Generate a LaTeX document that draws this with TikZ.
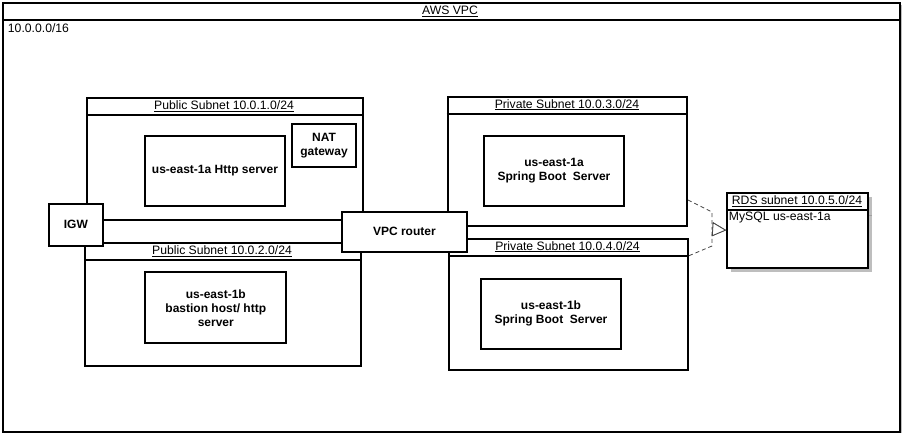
\documentclass[tikz,border=0pt]{standalone}
\usepackage{fontspec}
\setmainfont{Liberation Sans}
\usepackage{tikz}
\usetikzlibrary{arrows.meta}

\tikzset{
  lane/.style={draw, line width=2pt, fill=white, anchor=north west, inner sep=0pt},
  srv/.style={draw, line width=2pt, fill=white, anchor=north west, inner sep=0pt, align=center, font=\fontsize{12}{14}\selectfont\bfseries},
  hdr/.style={inner sep=0.75pt, font=\fontsize{12.2}{14}\selectfont},
  dep/.style={draw={rgb, 255:red, 68; green, 68; blue, 68}, line width=0.8pt, dash pattern={on 4pt off 3pt}, -{Triangle[length=14pt, width=14pt, fill=white]}}
}

\begin{document}
\begin{tikzpicture}[x=1pt,y=1pt,yscale=-1]
\useasboundingbox (0,0) rectangle (902,433);

%Shape: Rectangle (shadow of VPC)
\fill [fill={rgb, 255:red, 190; green, 190; blue, 190 }] (5,5) rectangle (902,433);
%Shape: Rectangle (AWS VPC)
\node [lane, minimum width=897, minimum height=429] (vpc) at (2,2) {};
\draw [line width=2pt] (2,20) -- (899,20);

%Shape: Rectangle (public subnets)
\node [lane, minimum width=276, minimum height=122] (pub1) at (86,97) {};
\draw [line width=2pt] (86,115) -- (362,115);
\node [lane, minimum width=276, minimum height=122.7] (pub2) at (84,242) {};
\draw [line width=2pt] (84,260) -- (360,260);

%Shape: Rectangle (private subnets)
\node [lane, minimum width=239.3, minimum height=129.3] (priv1) at (446.7,95.7) {};
\draw [line width=2pt] (446.7,113.7) -- (686,113.7);
\node [lane, minimum width=239, minimum height=131.3] (priv2) at (448,237.7) {};
\draw [line width=2pt] (448,255.7) -- (687,255.7);

%Shape: Rectangle (servers)
\node [srv, minimum width=140.6, minimum height=70] (web1a) at (143.7,134.7) {us-east-1a Http server};
\node [srv, minimum width=64.6, minimum height=43.3] (nat) at (290.7,122.7) {NAT\\gateway};
\node [srv, minimum width=141, minimum height=71] (bast) at (144.3,271.3) {us-east-1b\\bastion host/ http\\server};
\node [srv, minimum width=140.6, minimum height=70.6] (sb1a) at (482.7,134.7) {us-east-1a\\Spring Boot\ \ Server};
\node [srv, minimum width=140.6, minimum height=70.3] (sb1b) at (479.7,277.7) {us-east-1b\\Spring Boot\ \ Server};

%Shape: Rectangle (gateway and router)
\node [srv, minimum width=54.3, minimum height=42] (igw) at (47.7,202.7) {IGW};
\node [srv, minimum width=125.3, minimum height=40.3] (router) at (340.7,210.7) {VPC router};

%Shape: Rectangle (RDS subnet with shadow)
\fill [fill={rgb, 255:red, 190; green, 190; blue, 190 }] (731.3,196.7) rectangle (871.7,271.7);
\draw [draw={rgb, 255:red, 160; green, 160; blue, 160 }, line width=1pt] (731.3,215) -- (871.7,215);
\node [lane, minimum width=140.4, minimum height=75] (rds) at (726.3,191.7) {};
\draw [line width=2pt] (726.3,210) -- (866.7,210);

% Text Node
\node [hdr] (vpct) at (450,11) {\underline{AWS VPC}};
% Text Node
\node [hdr, anchor=north west] (cidr) at (7,22.5) {10.0.0.0/16};
% Text Node
\node [hdr] (pub1t) at (224,106) {\underline{Public Subnet 10.0.1.0/24}};
% Text Node
\node [hdr] (pub2t) at (222,251) {\underline{Public Subnet 10.0.2.0/24}};
% Text Node
\node [hdr] (priv1t) at (567,104.7) {\underline{Private Subnet 10.0.3.0/24}};
% Text Node
\node [hdr] (priv2t) at (567.5,246.7) {\underline{Private Subnet 10.0.4.0/24}};
% Text Node
\node [hdr] (rdst) at (797,201) {\underline{RDS subnet 10.0.5.0/24}};
% Text Node
\node [hdr, anchor=west] (mysql) at (728,218) {MySQL us-east-1a};

%Dashed links to RDS
\coordinate (bend1) at (712,212);
\coordinate (bend2) at (712,246);
\coordinate (join) at (712,229.2);
\draw [dep] ([yshift=-27pt]priv1.south east) -- (bend1) -- (join) -- (rds.west);
\draw [dep] ([yshift=18pt]priv2.north east) -- (bend2) -- (join) -- (rds.west);
\end{tikzpicture}
\end{document}
